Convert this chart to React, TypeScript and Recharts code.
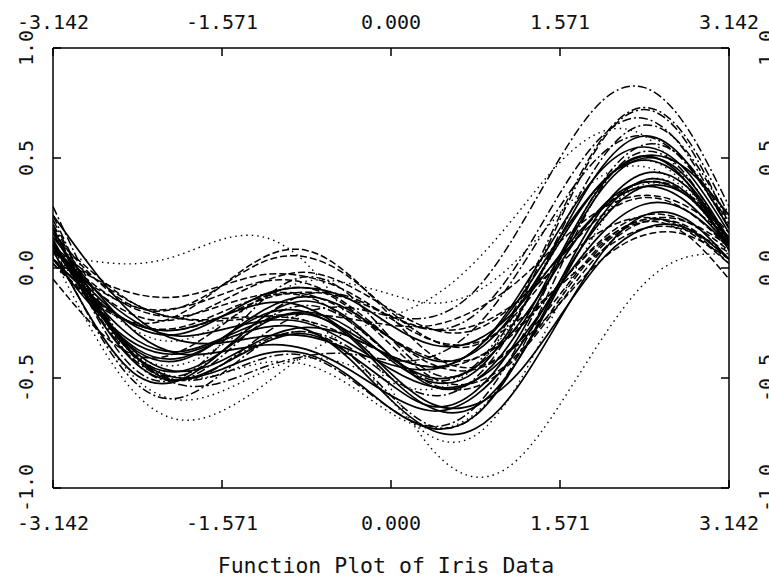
import { LineChart, Line, XAxis, YAxis } from "recharts";

// sample positions along t (-pi .. pi, step pi/8)
const T_SAMPLES = [
  -3.1416, -2.7489, -2.3562, -1.9635, -1.5708, -1.1781, -0.7854, -0.3927, 0,
  0.3927, 0.7854, 1.1781, 1.5708, 1.9635, 2.3562, 2.7489, 3.1416,
];

const X_TICKS = [-3.1416, -1.5708, 0, 1.5708, 3.1416];
const Y_TICKS = [-1, -0.5, 0, 0.5, 1];

// solid curves
const s01 = [0.11, -0.15, -0.33, -0.38, -0.32, -0.24, -0.21, -0.29, -0.41, -0.5, -0.45, -0.26, 0.02, 0.28, 0.39, 0.33, 0.11];
const s02 = [0.13, -0.2, -0.44, -0.51, -0.44, -0.34, -0.3, -0.39, -0.53, -0.63, -0.56, -0.32, 0.04, 0.36, 0.5, 0.41, 0.13];
const s03 = [0.12, -0.18, -0.38, -0.42, -0.32, -0.19, -0.13, -0.19, -0.32, -0.42, -0.38, -0.18, 0.12, 0.39, 0.49, 0.39, 0.12];
const s04 = [0.14, -0.1, -0.3, -0.39, -0.38, -0.35, -0.37, -0.46, -0.58, -0.65, -0.58, -0.37, -0.06, 0.22, 0.37, 0.33, 0.14];
const s05 = [0.18, -0.17, -0.41, -0.47, -0.38, -0.25, -0.2, -0.27, -0.42, -0.52, -0.47, -0.22, 0.14, 0.46, 0.6, 0.48, 0.18];
const s06 = [0.1, -0.1, -0.25, -0.31, -0.28, -0.24, -0.25, -0.34, -0.46, -0.54, -0.51, -0.34, -0.08, 0.16, 0.29, 0.26, 0.1];
const s07 = [0.12, -0.18, -0.41, -0.5, -0.46, -0.39, -0.39, -0.49, -0.64, -0.73, -0.67, -0.42, -0.06, 0.27, 0.43, 0.37, 0.12];
const s08 = [0.1, -0.12, -0.27, -0.3, -0.22, -0.12, -0.09, -0.14, -0.26, -0.35, -0.33, -0.18, 0.06, 0.27, 0.37, 0.3, 0.1];
const s09 = [0.08, -0.26, -0.49, -0.51, -0.38, -0.22, -0.15, -0.23, -0.4, -0.54, -0.51, -0.29, 0.06, 0.38, 0.51, 0.39, 0.08];
const s10 = [0.16, -0.16, -0.39, -0.47, -0.42, -0.32, -0.27, -0.31, -0.4, -0.45, -0.37, -0.13, 0.18, 0.45, 0.55, 0.44, 0.16];
const s11 = [0.1, -0.18, -0.37, -0.41, -0.32, -0.21, -0.2, -0.31, -0.5, -0.64, -0.63, -0.42, -0.08, 0.24, 0.4, 0.34, 0.1];
const s12 = [0.24, -0.02, -0.23, -0.33, -0.34, -0.31, -0.31, -0.37, -0.44, -0.46, -0.37, -0.15, 0.14, 0.39, 0.51, 0.45, 0.24];
const s13 = [0.04, -0.19, -0.35, -0.39, -0.33, -0.27, -0.28, -0.41, -0.6, -0.74, -0.73, -0.54, -0.23, 0.07, 0.24, 0.22, 0.04];
const s14 = [0.04, -0.14, -0.26, -0.28, -0.22, -0.16, -0.18, -0.3, -0.48, -0.62, -0.62, -0.48, -0.22, 0.04, 0.18, 0.18, 0.04];

// dashed curves
const d01 = [0.08, -0.08, -0.19, -0.22, -0.17, -0.12, -0.12, -0.2, -0.32, -0.41, -0.41, -0.28, -0.07, 0.13, 0.24, 0.21, 0.08];
const d02 = [0.07, -0.05, -0.12, -0.13, -0.08, -0.03, -0.04, -0.11, -0.23, -0.33, -0.34, -0.24, -0.08, 0.08, 0.18, 0.17, 0.07];
const d03 = [0.1, -0.05, -0.17, -0.23, -0.23, -0.22, -0.24, -0.31, -0.4, -0.45, -0.41, -0.27, -0.07, 0.12, 0.22, 0.21, 0.1];
const d04 = [0.09, -0.1, -0.22, -0.23, -0.15, -0.06, -0.02, -0.08, -0.19, -0.28, -0.28, -0.15, 0.05, 0.24, 0.32, 0.26, 0.09];
const d05 = [0.04, -0.14, -0.26, -0.27, -0.2, -0.13, -0.13, -0.24, -0.4, -0.53, -0.54, -0.4, -0.16, 0.08, 0.21, 0.19, 0.04];
const d06 = [0.02, -0.15, -0.26, -0.28, -0.22, -0.14, -0.11, -0.14, -0.22, -0.28, -0.26, -0.15, 0.02, 0.17, 0.23, 0.17, 0.02];
const d07 = [0.16, -0.05, -0.18, -0.18, -0.08, 0.03, 0.05, -0.04, -0.2, -0.33, -0.35, -0.2, 0.04, 0.27, 0.39, 0.34, 0.16];
const d08 = [0.04, -0.09, -0.18, -0.18, -0.12, -0.06, -0.07, -0.17, -0.32, -0.44, -0.46, -0.35, -0.16, 0.04, 0.15, 0.15, 0.04];
const d09 = [0.14, -0.03, -0.17, -0.23, -0.24, -0.22, -0.21, -0.23, -0.26, -0.26, -0.19, -0.06, 0.12, 0.27, 0.33, 0.28, 0.14];
const d10 = [-0.05, -0.27, -0.4, -0.38, -0.26, -0.13, -0.09, -0.18, -0.35, -0.5, -0.52, -0.39, -0.14, 0.1, 0.21, 0.15, -0.05];
const d11 = [0.02, -0.16, -0.25, -0.21, -0.08, 0.05, 0.08, -0.03, -0.22, -0.4, -0.45, -0.34, -0.12, 0.11, 0.22, 0.18, 0.02];

// dash-dot curves
const m01 = [0.28, -0.12, -0.41, -0.51, -0.44, -0.3, -0.2, -0.18, -0.22, -0.22, -0.1, 0.17, 0.5, 0.76, 0.82, 0.64, 0.28];
const m02 = [0.24, -0.16, -0.44, -0.51, -0.4, -0.24, -0.17, -0.24, -0.4, -0.51, -0.44, -0.16, 0.24, 0.59, 0.73, 0.59, 0.24];
const m03 = [0.22, -0.15, -0.42, -0.51, -0.44, -0.33, -0.29, -0.36, -0.5, -0.58, -0.5, -0.23, 0.16, 0.5, 0.65, 0.53, 0.22];
const m04 = [0.18, -0.19, -0.43, -0.49, -0.38, -0.22, -0.12, -0.13, -0.22, -0.28, -0.21, 0.02, 0.34, 0.6, 0.68, 0.52, 0.18];
const m05 = [0.1, -0.27, -0.53, -0.59, -0.48, -0.34, -0.29, -0.39, -0.58, -0.72, -0.67, -0.4, 0.0, 0.37, 0.53, 0.42, 0.1];
const m06 = [0.18, -0.15, -0.41, -0.53, -0.52, -0.45, -0.4, -0.39, -0.42, -0.4, -0.27, -0.02, 0.28, 0.52, 0.6, 0.47, 0.18];
const m07 = [0.2, -0.21, -0.47, -0.5, -0.34, -0.14, -0.04, -0.12, -0.32, -0.48, -0.45, -0.18, 0.22, 0.58, 0.72, 0.57, 0.2];
const m08 = [0.2, -0.14, -0.41, -0.51, -0.48, -0.41, -0.4, -0.5, -0.64, -0.72, -0.63, -0.35, 0.04, 0.39, 0.56, 0.48, 0.2];

// dotted curves
const p01 = [0.06, 0.03, 0.02, 0.06, 0.13, 0.14, 0.02, -0.23, -0.55, -0.83, -0.95, -0.87, -0.62, -0.32, -0.07, 0.05, 0.06];
const p02 = [0.05, -0.31, -0.58, -0.69, -0.65, -0.53, -0.39, -0.29, -0.22, -0.13, 0.03, 0.25, 0.48, 0.62, 0.6, 0.39, 0.05];
const p03 = [0.1, -0.18, -0.4, -0.5, -0.48, -0.43, -0.44, -0.53, -0.66, -0.73, -0.66, -0.42, -0.08, 0.23, 0.38, 0.33, 0.1];
const p04 = [0.12, -0.13, -0.29, -0.33, -0.25, -0.14, -0.06, -0.07, -0.12, -0.16, -0.11, 0.04, 0.25, 0.42, 0.46, 0.35, 0.12];
const p05 = [0.08, -0.26, -0.51, -0.6, -0.56, -0.47, -0.41, -0.44, -0.52, -0.55, -0.45, -0.21, 0.12, 0.39, 0.49, 0.37, 0.08];
const p06 = [0.1, -0.2, -0.4, -0.44, -0.35, -0.24, -0.24, -0.38, -0.6, -0.77, -0.76, -0.53, -0.15, 0.21, 0.4, 0.34, 0.1];

const SOLID = [s01, s02, s03, s04, s05, s06, s07, s08, s09, s10, s11, s12, s13, s14];
const DASHED = [d01, d02, d03, d04, d05, d06, d07, d08, d09, d10, d11];
const DASHDOT = [m01, m02, m03, m04, m05, m06, m07, m08];
const DOTTED = [p01, p02, p03, p04, p05, p06];

const series = [
  ...SOLID.map((v) => ({ values: v, dash: undefined as string | undefined, w: 1.7 })),
  ...DASHED.map((v) => ({ values: v, dash: "7 3", w: 1.5 })),
  ...DASHDOT.map((v) => ({ values: v, dash: "9 3 2 3", w: 1.5 })),
  ...DOTTED.map((v) => ({ values: v, dash: "1.5 4", w: 1.4 })),
].map((s, i) => ({ ...s, key: `c${i}` }));

const data = T_SAMPLES.map((t, i) => {
  const row: Record<string, number> = { t };
  series.forEach((s) => {
    row[s.key] = s.values[i];
  });
  return row;
});

const FONT = "'DejaVu Sans Mono', 'Liberation Mono', monospace";
const fmtX = (v: number) => v.toFixed(3);
const fmtY = (v: number) => v.toFixed(1);

function BottomTick({ x, y, payload }: any) {
  return (
    <g>
      <line x1={x} y1={y} x2={x} y2={y - 8} stroke="#000" strokeWidth={1.5} />
      <text x={x} y={y + 42} textAnchor="middle" fontFamily={FONT} fontSize={20} fill="#111">
        {fmtX(payload.value)}
      </text>
    </g>
  );
}

function TopTick({ x, y, payload }: any) {
  return (
    <g>
      <line x1={x} y1={y} x2={x} y2={y + 8} stroke="#000" strokeWidth={1.5} />
      <text x={x} y={y - 19} textAnchor="middle" fontFamily={FONT} fontSize={20} fill="#111">
        {fmtX(payload.value)}
      </text>
    </g>
  );
}

function LeftTick({ x, y, payload }: any) {
  const tx = x - 20;
  return (
    <g>
      <line x1={x} y1={y} x2={x + 8} y2={y} stroke="#000" strokeWidth={1.5} />
      <text
        x={tx}
        y={y}
        transform={`rotate(-90 ${tx} ${y})`}
        textAnchor="middle"
        fontFamily={FONT}
        fontSize={20}
        fill="#111"
      >
        {fmtY(payload.value)}
      </text>
    </g>
  );
}

// right-hand labels run off the page edge, as in the original plot
function RightTick({ x, y, payload }: any) {
  const tx = x + 44;
  return (
    <g>
      <line x1={x} y1={y} x2={x - 8} y2={y} stroke="#000" strokeWidth={1.5} />
      <text
        x={tx}
        y={y}
        transform={`rotate(-90 ${tx} ${y})`}
        textAnchor="middle"
        fontFamily={FONT}
        fontSize={20}
        fill="#111"
      >
        {fmtY(payload.value)}
      </text>
    </g>
  );
}

const axisLine = { stroke: "#000", strokeWidth: 1.5 };

export default function App() {
  return (
    <div style={{ position: "absolute", left: 0, top: 0, width: 769, height: 576, background: "#fff" }}>
      <LineChart width={769} height={576} data={data} margin={{ top: 0, right: 0, bottom: 0, left: 0 }}>
        <XAxis
          xAxisId="b"
          orientation="bottom"
          dataKey="t"
          type="number"
          domain={[-3.1416, 3.1416]}
          ticks={X_TICKS}
          interval={0}
          height={88}
          tickSize={0}
          tickMargin={0}
          tickLine={false}
          axisLine={axisLine}
          tick={<BottomTick />}
          allowDataOverflow
        />
        <XAxis
          xAxisId="t"
          orientation="top"
          dataKey="t"
          type="number"
          domain={[-3.1416, 3.1416]}
          ticks={X_TICKS}
          interval={0}
          height={48}
          tickSize={0}
          tickMargin={0}
          tickLine={false}
          axisLine={axisLine}
          tick={<TopTick />}
          allowDataOverflow
        />
        <YAxis
          yAxisId="l"
          orientation="left"
          type="number"
          domain={[-1, 1]}
          ticks={Y_TICKS}
          interval={0}
          width={53}
          tickSize={0}
          tickMargin={0}
          tickLine={false}
          axisLine={axisLine}
          tick={<LeftTick />}
          allowDataOverflow
        />
        <YAxis
          yAxisId="r"
          orientation="right"
          type="number"
          domain={[-1, 1]}
          ticks={Y_TICKS}
          interval={0}
          width={40}
          tickSize={0}
          tickMargin={0}
          tickLine={false}
          axisLine={axisLine}
          tick={<RightTick />}
          allowDataOverflow
        />
        {series.map((s) => (
          <Line
            key={s.key}
            xAxisId="b"
            yAxisId="l"
            type="natural"
            dataKey={s.key}
            stroke="#000"
            strokeWidth={s.w}
            strokeDasharray={s.dash}
            dot={false}
            activeDot={false}
            isAnimationActive={false}
          />
        ))}
      </LineChart>
      <svg width={769} height={576} style={{ position: "absolute", left: 0, top: 0, pointerEvents: "none" }}>
        <text x={386} y={573} textAnchor="middle" fontFamily={FONT} fontSize={21.5} fill="#111">
          Function Plot of Iris Data
        </text>
      </svg>
    </div>
  );
}
